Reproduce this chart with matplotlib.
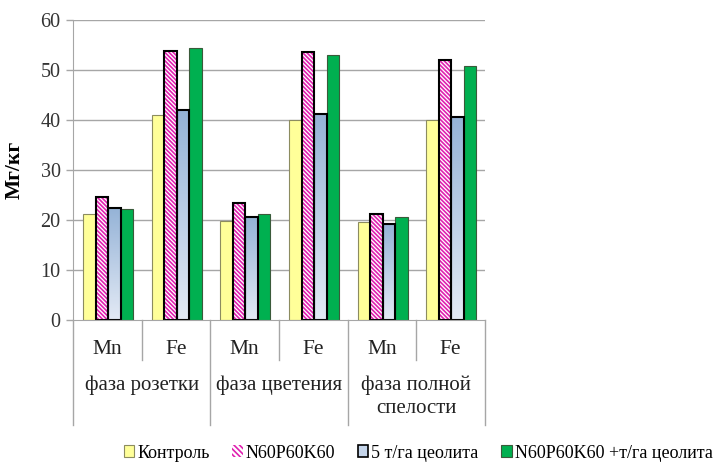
import numpy as np
import matplotlib
matplotlib.use("Agg")
import matplotlib.pyplot as plt
from matplotlib.patches import Patch, Rectangle
from matplotlib.colors import LinearSegmentedColormap

plt.rcParams['font.family'] = 'serif'
plt.rcParams['font.serif'] = ['Liberation Serif', 'Times New Roman', 'DejaVu Serif']
plt.rcParams['hatch.linewidth'] = 1.2

# --- data -------------------------------------------------------------
elements = ["Mn", "Fe", "Mn", "Fe", "Mn", "Fe"]
phases = ["фаза розетки", "фаза цветения", "фаза полной\nспелости"]
series_names = ["Контроль", "N60P60K60", "5 т/га цеолита", "N60P60K60 +т/га цеолита"]
control = [21.3, 41.1, 19.8, 40.1, 19.6, 40.0]
npk = [24.7, 53.9, 23.5, 53.7, 21.3, 52.0]
zeolite = [22.4, 42.0, 20.6, 41.2, 19.3, 40.7]
npk_zeolite = [22.2, 54.4, 21.3, 53.1, 20.6, 50.8]
y_ticks = [0, 10, 20, 30, 40, 50, 60]
y_label = "Мг/кг"

W, H = 717, 465
fig = plt.figure(figsize=(W / 100, H / 100), dpi=100)
left, right, top, bottom = 73, 485, 20, 320
ax = fig.add_axes([left / W, 1 - bottom / H, (right - left) / W, (bottom - top) / H])

n = len(elements)
x = np.arange(n)
bw = 0.182
offsets = (np.arange(4) - 1.5) * bw + 0.01

grid_c = "#A6A6A6"
ax.set_xlim(-0.5, n - 0.5)
ax.set_ylim(0, 60)
ax.set_yticks(y_ticks)
for v in y_ticks[1:]:
    ax.axhline(v, color=grid_c, lw=1.0, zorder=0)

# Контроль
ax.bar(x + offsets[0], control, bw, color="#FFFF99", edgecolor="#8C8C60", lw=0.8, zorder=2)
# N60P60K60: magenta diagonal stripes
ax.bar(x + offsets[1], npk, bw, color="white", edgecolor="#E020B0",
       hatch="\\\\\\\\\\\\\\\\", lw=0, zorder=2)
ax.bar(x + offsets[1], npk, bw, fill=False, edgecolor="black", lw=1.5, zorder=3)
# 5 т/га цеолита: vertical gradient
grad = LinearSegmentedColormap.from_list("bl", ["#E3EAF5", "#95B3D7"])
gimg = np.linspace(0, 1, 256).reshape(-1, 1)
zbars = ax.bar(x + offsets[2], zeolite, bw, fill=False, edgecolor="black", lw=1.5, zorder=3)
for b in zbars:
    x0, y0, w_, h_ = b.get_x(), b.get_y(), b.get_width(), b.get_height()
    im = ax.imshow(gimg, cmap=grad, aspect="auto", origin="lower",
                   extent=[x0, x0 + w_, y0, y0 + h_], zorder=2)
    im.set_clip_path(Rectangle((x0, y0), w_, h_, transform=ax.transData))
ax.set_xlim(-0.5, n - 0.5)
ax.set_ylim(0, 60)
# N60P60K60 + цеолит
ax.bar(x + offsets[3], npk_zeolite, bw, color="#00B050", edgecolor="#3A5A3A", lw=0.8, zorder=2)

for s in ["top", "right"]:
    ax.spines[s].set_visible(False)
ax.spines["left"].set_color(grid_c)
ax.spines["bottom"].set_color(grid_c)
ax.spines["bottom"].set_zorder(4)
ax.tick_params(axis="y", colors=grid_c, length=5, width=1, labelsize=14.5, labelcolor="#333333", pad=4)
ax.set_xticks([])
ax.set_ylabel(y_label, fontsize=15.5, fontweight="bold", labelpad=11)

# multi-level category axis
def ay(py):
    return (bottom - py) / (bottom - top)

trans = ax.get_xaxis_transform()
for i in range(n + 1):
    xb = i - 0.5
    long_line = (i % 2 == 0)
    y_end = 425 if long_line else 360
    ax.plot([xb, xb], [0, ay(y_end)], transform=trans, color=grid_c, lw=1.0, clip_on=False)
for i, el in enumerate(elements):
    ax.text(i, ay(349), el, transform=trans, ha="center", va="center", fontsize=15.5, color="#222222")
for g, ph in enumerate(phases):
    ax.text(2 * g + 0.5, ay(375), ph, transform=trans, ha="center", va="top",
            fontsize=15, color="#222222", linespacing=1.3)

handles = [
    Patch(facecolor="#FFFF99", edgecolor="#8C8C60", lw=0.8),
    Patch(facecolor="white", edgecolor="#E020B0", hatch="\\\\\\\\\\\\", lw=0),
    Patch(facecolor="#C5D5EA", edgecolor="black", lw=1.2),
    Patch(facecolor="#00B050", edgecolor="#3A5A3A", lw=0.8),
]
fig.legend(handles, series_names, loc="center", bbox_to_anchor=(418 / W, 1 - 453 / H),
           ncol=4, frameon=False, fontsize=13, handlelength=0.6, handleheight=0.6,
           handletextpad=0.15, columnspacing=1.25, borderaxespad=0)

fig.savefig("out.png", dpi=100)
